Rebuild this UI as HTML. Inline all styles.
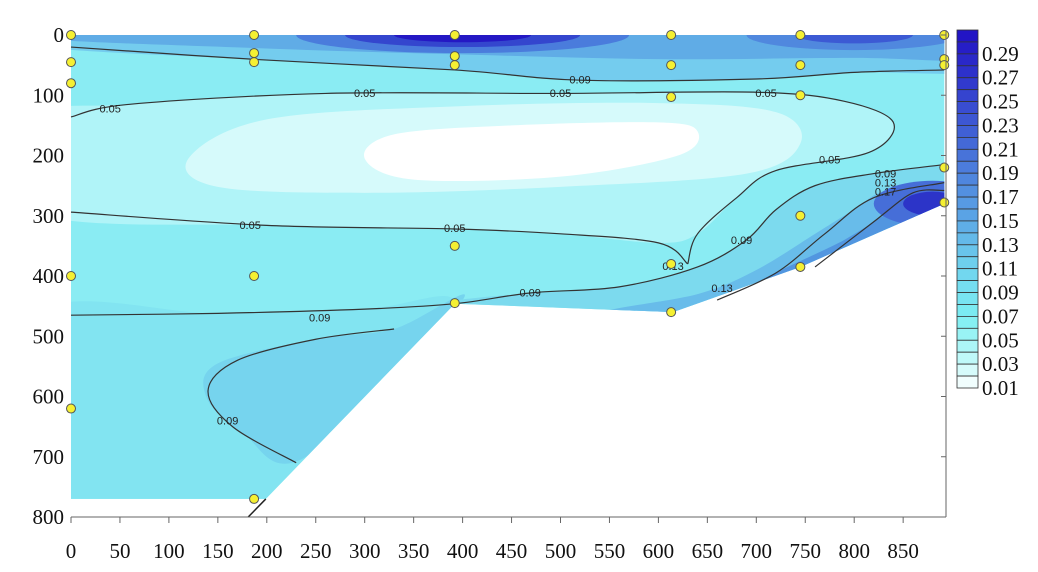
<!DOCTYPE html>
<html><head><meta charset="utf-8">
<style>
html,body{margin:0;padding:0;background:#fff;}
svg text{font-family:"Liberation Serif",serif;}
</style></head>
<body>
<svg id="chart" width="1038" height="567" viewBox="0 0 1038 567" xmlns="http://www.w3.org/2000/svg">
<defs><clipPath id="dom"><path id="domPath"/></clipPath></defs>
<g id="fills" clip-path="url(#dom)"></g>
<g id="lines"></g>
<g id="pts"></g>
<g id="axes"></g>
<g id="cbar"></g>
</svg>
<script>
const xTicks=[0,50,100,150,200,250,300,350,400,450,500,550,600,650,700,750,800,850];
const yTicks=[0,100,200,300,400,500,600,700,800];
const cbLabels=[0.29,0.27,0.25,0.23,0.21,0.19,0.17,0.15,0.13,0.11,0.09,0.07,0.05,0.03,0.01];
const sampleX=[0,187,392,613,745,892,187,187,0,0,392,392,613,613,745,745,892,892,892,892,745,745,613,613,392,392,187,0,0,187];
const sampleY=[0,0,0,0,0,0,30,45,45,80,35,50,50,103,50,100,40,50,220,278,300,385,380,460,350,445,400,400,620,770];
const domainX=[0,892,892,745,615,392,199,0];
const domainY=[0,0,280,385,460,446,770,770];

const X=v=>71+v*0.979, Y=v=>35+v*0.6025;
const NS="http://www.w3.org/2000/svg";
function el(tag,attrs,parent){const e=document.createElementNS(NS,tag);for(const k in attrs)e.setAttribute(k,attrs[k]);parent.appendChild(e);return e;}
function smooth(pts,closed){
  const p=pts.map(a=>[X(a[0]),Y(a[1])]);const n=p.length;let d="M"+p[0][0]+","+p[0][1];
  const cnt=closed?n:n-1;
  for(let i=0;i<cnt;i++){
    const p0=p[(i-1+n)%n],p1=p[i],p2=p[(i+1)%n],p3=p[(i+2)%n];
    const a0=closed||i>0?p0:p1,a3=closed||i<n-2?p3:p2;
    d+=` C${p1[0]+(p2[0]-a0[0])/6},${p1[1]+(p2[1]-a0[1])/6} ${p2[0]-(a3[0]-p1[0])/6},${p2[1]-(a3[1]-p1[1])/6} ${p2[0]},${p2[1]}`;
  }
  return d+(closed?"Z":"");
}
document.getElementById('domPath').setAttribute('d',domainX.map((v,i)=>(i?'L':'M')+X(v)+','+Y(domainY[i])).join('')+'Z');
const F=document.getElementById('fills');
function fill(pts,color,name){const e=el('path',{d:smooth(pts,true),fill:color},F);

}
function ell(cx,cy,rx,ry,color,name){const e=el('ellipse',{cx:X(cx),cy:Y(cy),rx:rx*0.979,ry:ry*0.6025,fill:color},F);

}
el('rect',{x:0,y:0,width:1038,height:567,fill:'#8aecf3'},F);
fill([[-40,468],[150,462],[300,455],[392,446],[300,650],[199,770],[-40,800]],'#82e4f1','band-left-lower');
fill([[150,545],[250,505],[330,488],[400,440],[240,700],[175,660],[138,600]],'#76d4ee','pocket-lower');
fill([[-40,138],[60,115],[260,97],[500,97],[700,95],[790,110],[840,145],[815,195],[720,225],[680,270],[640,330],[600,345],[500,330],[392,322],[200,316],[-40,294]],'#b0f4f8','band-005');
fill([[120,205],[200,140],[400,118],[600,113],[720,128],[745,180],[690,230],[500,252],[300,262],[150,252]],'#d6fafb','band-003');
fill([[300,205],[330,165],[450,150],[600,145],[640,160],[620,200],[500,235],[350,240]],'#ffffff','band-001');
fill([[-40,-20],[950,-20],[950,58],[800,62],[700,73],[520,75],[392,58],[193,41],[-40,18]],'#74ccee','top-009');
fill([[-40,-20],[950,-20],[950,40],[800,38],[600,40],[392,32],[193,22],[-40,5]],'#60ace6','top-013');
ell(400,0,170,30,'#4a7cdc','top-blob-1');
ell(400,0,120,20,'#3446ce','top-blob-1b');
ell(400,0,70,12,'#2418c4','top-blob-1c');
ell(800,0,110,25,'#5088de','top-blob-2');
ell(800,0,60,14,'#3c5ad4','top-blob-2b');
fill([[392,446],[470,428],[560,418],[640,385],[690,340],[720,290],[760,250],[820,230],[950,215],[950,300],[745,385],[615,460]],'#7cdaee','br-009');
fill([[540,462],[640,430],[700,390],[760,330],[800,290],[840,255],[950,240],[950,300],[745,400],[615,480]],'#68bcea','br-013');
fill([[700,420],[790,340],[840,290],[880,255],[950,250],[950,320]],'#5296e0','br-017');
ell(880,280,60,38,'#466ed8','br-blob');
ell(880,280,30,20,'#2c34c8','br-blob-core');
const L=document.getElementById('lines');
function line(pts,name,w,c){const e=el('path',{d:smooth(pts,false),fill:'none',stroke:c||'#333',"stroke-width":w||1.2},L);

}
line([[0,20],[193,41],[392,58],[520,75],[700,73],[800,62],[892,58]],'contour-009-top');
line([[0,136],[60,115],[260,97],[500,97],[700,95],[790,110],[840,145],[815,195],[720,225],[680,270],[640,330],[630,380]],'contour-005-a');
line([[0,294],[200,316],[392,322],[500,330],[600,345],[630,380]],'contour-005-b');
line([[0,465],[150,462],[300,455],[392,446],[470,428],[560,418],[640,385],[690,340],[720,290],[760,250],[820,230],[892,215]],'contour-009-bottom');
line([[230,710],[165,650],[140,590],[170,540],[250,505],[330,488]],'contour-009-pocket');
line([[660,440],[720,395],[770,330],[820,270],[892,245]],'contour-013');
line([[760,385],[820,310],[860,262],[892,258]],'contour-017');
const labels=[[40,122,'0.05'],[300,96,'0.05'],[500,96,'0.05'],[710,96,'0.05'],[520,74,'0.09'],[775,207,'0.05'],[183,315,'0.05'],[392,320,'0.05'],[254,469,'0.09'],[469,427,'0.09'],[160,640,'0.09'],[685,340,'0.09'],[665,420,'0.13'],[832,230,'0.09'],[832,245,'0.13'],[832,260,'0.17'],[615,383,'0.13']];
labels.forEach(l=>{const t=el('text',{x:X(l[0]),y:Y(l[1])+4,'text-anchor':'middle','font-size':11,fill:'#222',style:'font-family:"Liberation Sans",sans-serif'},L);t.textContent=l[2];

});
el('line',{x1:X(199),y1:Y(770),x2:X(181),y2:Y(800),stroke:'#222','stroke-width':1.5},L);
const P=document.getElementById('pts');
sampleX.forEach((v,i)=>{const c=el('circle',{cx:X(v),cy:Y(sampleY[i]),r:4.5,fill:'#f5f032',stroke:'#555','stroke-width':1},P);

});
const A=document.getElementById('axes');
el('line',{x1:71,y1:517,x2:946,y2:517,stroke:'#666'},A);
el('line',{x1:946,y1:30,x2:946,y2:517,stroke:'#666'},A);
xTicks.forEach(v=>{el('line',{x1:X(v),y1:517,x2:X(v),y2:523,stroke:'#666'},A);
const t=el('text',{x:X(v),y:558,'text-anchor':'middle','font-size':21,fill:'#111'},A);t.textContent=v;

});
yTicks.forEach(v=>{el('line',{x1:941,y1:Y(v),x2:946,y2:Y(v),stroke:'#666'},A);
const t=el('text',{x:64,y:Y(v)+7,'text-anchor':'end','font-size':21,fill:'#111'},A);t.textContent=v;

});
const C=document.getElementById('cbar');
const stops=[[0.01,[255,255,255]],[0.03,[200,250,250]],[0.07,[125,238,242]],[0.11,[112,212,238]],[0.15,[92,168,230]],[0.21,[70,110,216]],[0.31,[32,16,196]]];
function col(v){for(let i=0;i<stops.length-1;i++){const a=stops[i],b=stops[i+1];if(v<=b[0]){const t=(v-a[0])/(b[0]-a[0]);return 'rgb('+a[1].map((c,k)=>Math.round(c+(b[1][k]-c)*t)).join(',')+')';}}return 'rgb(32,16,196)';}
const cbTop=30,cbBot=388,nBands=30,bandH=(cbBot-cbTop)/nBands;
for(let i=0;i<nBands;i++){const v=0.31-(i+0.5)*0.01;const r=el('rect',{x:957,y:cbTop+i*bandH,width:21,height:bandH,fill:col(v),stroke:'#333','stroke-width':0.8},C);

}
cbLabels.forEach(v=>{const y=cbBot-(v-0.01)/0.30*(cbBot-cbTop);const t=el('text',{x:982,y:y+7,'font-size':21,fill:'#111'},C);t.textContent=v.toFixed(2);

});
</script>
</body></html>
